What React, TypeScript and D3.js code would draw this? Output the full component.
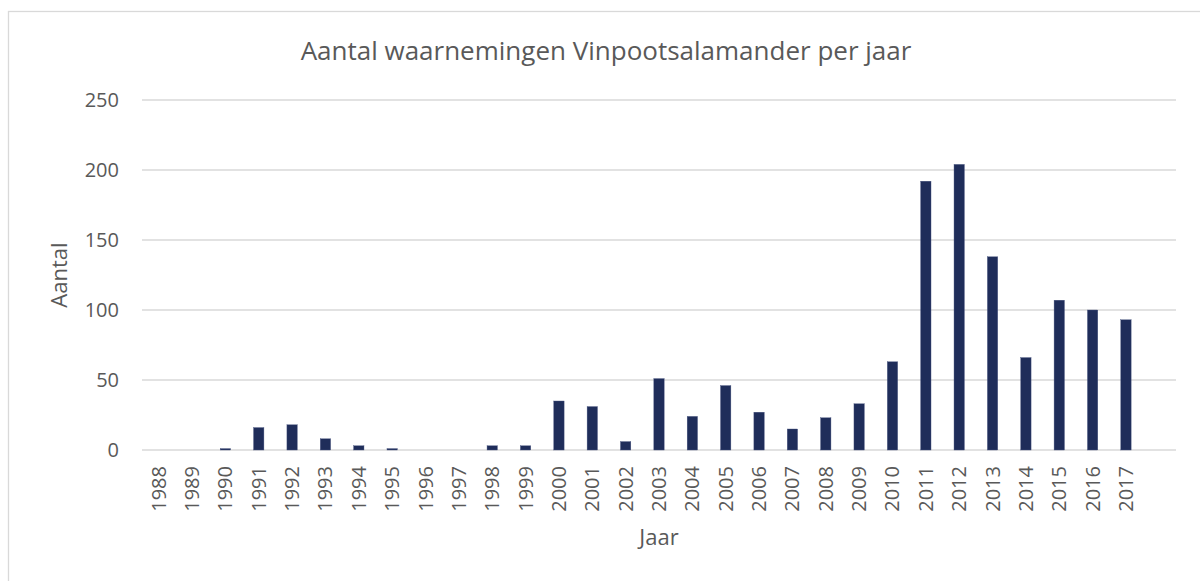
import React from 'react';
import * as d3 from 'd3';

// jaren en aantallen
const years = [
  '1988', '1989', '1990', '1991', '1992', '1993', '1994', '1995', '1996', '1997',
  '1998', '1999', '2000', '2001', '2002', '2003', '2004', '2005', '2006', '2007',
  '2008', '2009', '2010', '2011', '2012', '2013', '2014', '2015', '2016', '2017',
];
const counts = [
  0, 0, 1, 16, 18, 8, 3, 1, 0, 0,
  3, 3, 35, 31, 6, 51, 24, 46, 27, 15,
  23, 33, 63, 192, 204, 138, 66, 107, 100, 93,
];
const yTicks = [0, 50, 100, 150, 200, 250];

const title = 'Aantal waarnemingen Vinpootsalamander per jaar';
const yTitle = 'Aantal';
const xTitle = 'Jaar';

const W = 1200;
const H = 581;
const left = 142;
const right = 1176;
const top = 100;
const bottom = 450;
const font = '"Open Sans", "Noto Sans", sans-serif';
const textColor = '#595959';
const gridColor = '#d9d9d9';
const barColor = '#1f2d5a';

const App = () => {
  // een lege plek na 2017, zoals in het origineel
  const x = d3.scaleBand<string>()
    .domain([...years, ''])
    .range([left, right])
    .paddingInner(0.69)
    .paddingOuter(0.345);

  const y = d3.scaleLinear().domain([0, 250]).range([bottom, top]);

  return (
    <svg
      width={W}
      height={H}
      style={{ position: 'absolute', left: 0, top: 0, display: 'block', background: '#fff' }}
      fontFamily={font}
    >
      <rect x={8.5} y={11.5} width={W + 10} height={H + 10} fill="#fff" stroke={gridColor} strokeWidth={1.3} />

      {/* titel staat gecentreerd op de hele kaart, niet op het plotvlak */}
      <text x={606} y={60} textAnchor="middle" fontSize={26} fill={textColor}>
        {title}
      </text>

      {yTicks.map((t) => (
        <g key={t}>
          <line x1={left} x2={right} y1={y(t)} y2={y(t)} stroke={gridColor} strokeWidth={1.5} />
          <text x={119} y={y(t)} dy="0.35em" textAnchor="end" fontSize={20} fill={textColor}>
            {t}
          </text>
        </g>
      ))}

      {years.map((yr, i) => (
        <rect
          key={yr}
          x={x(yr)}
          y={y(counts[i])}
          width={x.bandwidth()}
          height={y(0) - y(counts[i])}
          fill={barColor}
          stroke="#4a5680"
          strokeWidth={0.4}
        />
      ))}

      {years.map((yr) => {
        const cx = (x(yr) as number) + x.bandwidth() / 2;
        return (
          <text
            key={yr}
            transform={`translate(${cx},466) rotate(-90)`}
            dy="0.35em"
            textAnchor="end"
            fontSize={20}
            fill={textColor}
          >
            {yr}
          </text>
        );
      })}

      <text
        transform={`translate(67,${(top + bottom) / 2}) rotate(-90)`}
        textAnchor="middle"
        fontSize={22}
        fill={textColor}
      >
        {yTitle}
      </text>

      <text x={(left + right) / 2} y={545} textAnchor="middle" fontSize={22} fill={textColor}>
        {xTitle}
      </text>
    </svg>
  );
};

export default App;
